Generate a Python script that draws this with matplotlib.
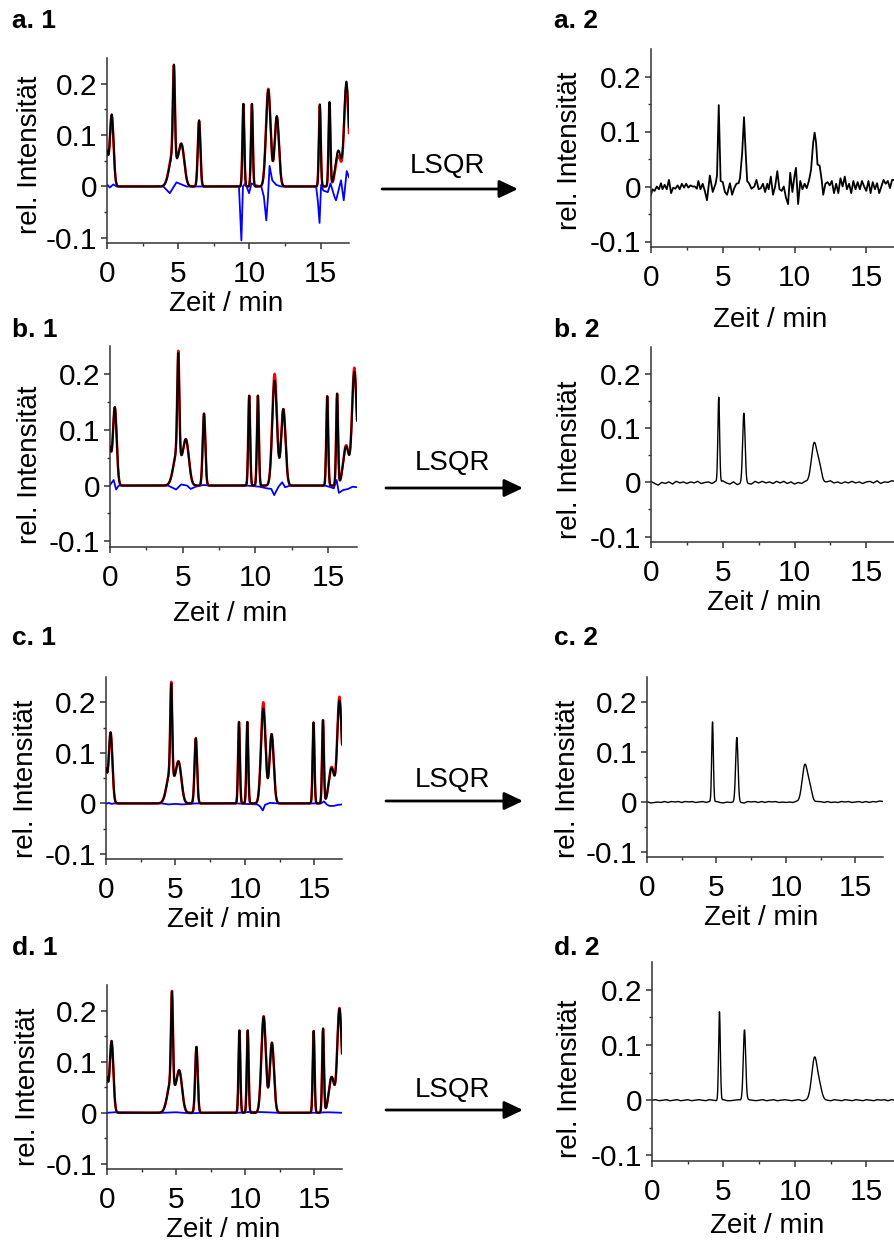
import numpy as np
import matplotlib
matplotlib.use("Agg")
import matplotlib.pyplot as plt
from matplotlib.patches import FancyArrowPatch
from matplotlib.ticker import FixedLocator, FuncFormatter

plt.rcParams['font.family'] = ['Liberation Sans', 'DejaVu Sans']

# ---------------- data ----------------
# left panels: peak table of the measured chromatogram (black) and fits (red)
peak_rt = [-0.05, 0.33, 4.62, 4.70, 5.23, 6.47, 9.58, 10.18, 11.33, 11.93, 14.95, 15.63, 16.25, 16.80, 17.00]
peak_w = [0.12, 0.13, 0.25, 0.07, 0.20, 0.09, 0.065, 0.065, 0.16, 0.15, 0.065, 0.065, 0.20, 0.15, 0.15]
meas_h = [0.070, 0.140, 0.060, 0.178, 0.080, 0.129, 0.161, 0.161, 0.188, 0.137, 0.160, 0.164, 0.070, 0.185, 0.040]
fit_h_a = [0.072, 0.138, 0.065, 0.172, 0.080, 0.127, 0.160, 0.160, 0.190, 0.135, 0.158, 0.162, 0.060, 0.180, 0.030]
fit_h_b = [0.070, 0.140, 0.060, 0.182, 0.080, 0.129, 0.161, 0.161, 0.200, 0.137, 0.160, 0.164, 0.072, 0.192, 0.040]
fit_h_c = [0.070, 0.140, 0.060, 0.181, 0.080, 0.129, 0.161, 0.161, 0.200, 0.137, 0.160, 0.164, 0.072, 0.192, 0.040]
fit_h_d = [0.070, 0.140, 0.060, 0.179, 0.080, 0.129, 0.161, 0.161, 0.189, 0.137, 0.160, 0.164, 0.070, 0.186, 0.040]

# residuals (blue)
res_a_t = [0, 0.2, 0.44, 0.68, 3.95, 4.41, 4.88, 5.23, 5.58, 6.5, 9.27, 9.44, 9.55, 9.72, 9.98, 10.15, 10.37,
           10.84, 11.02, 11.19, 11.31, 11.42, 11.61, 11.89, 12.24, 14.69, 14.81, 14.93, 15.04, 15.2, 15.51,
           15.7, 15.98, 16.09, 16.44, 16.63, 16.84, 17.0]
res_a_v = [0.004, -0.002, 0.004, 0.0, 0.0, -0.013, 0.008, 0.004, 0.0, 0.0, 0.0, -0.105, 0.0, 0.006, -0.013, 0.006, 0.003,
           0.0, -0.020, -0.066, -0.020, 0.040, 0.012, 0.003, 0.0, 0.0, -0.028, -0.071, 0.003, -0.008, -0.011,
           0.006, -0.020, -0.027, 0.012, -0.027, 0.030, 0.018]
res_b_t = [0, 0.25, 0.42, 0.6, 4.0, 4.55, 4.9, 5.3, 5.55, 5.9, 6.4, 7.0, 9.4, 10.3, 10.8, 11.1, 11.3, 11.6, 11.85,
           12.05, 12.4, 14.8, 15.2, 15.4, 15.6, 15.75, 16.05, 16.4, 16.7, 17.0]
res_b_v = [0.001, 0.010, -0.007, 0.0, 0.0, -0.007, 0.002, 0.0, -0.006, -0.002, 0.001, 0.0, 0.0, -0.002, -0.005, -0.006,
           -0.017, -0.002, 0.006, -0.003, 0.0, 0.0, -0.003, -0.005, 0.010, -0.013, -0.008, -0.006, -0.002, -0.003]
res_c_t = [0, 0.2, 0.4, 0.6, 4.0, 4.5, 5.0, 5.5, 6.0, 6.5, 7.0, 9.4, 10.0, 10.9, 11.1, 11.3, 11.45, 11.8, 12.4,
           14.8, 15.5, 15.7, 15.9, 16.1, 16.4, 16.7, 17.0]
res_c_v = [-0.001, 0.001, -0.001, 0.0, 0.0, -0.002, -0.001, -0.002, -0.001, 0.0, 0.0, 0.0, -0.001, -0.002, -0.006,
           -0.014, -0.003, 0.001, 0.0, 0.0, 0.0, 0.004, -0.002, -0.005, -0.005, -0.003, -0.002]
res_d_t = [0, 0.6, 4.0, 5.0, 6.0, 7.0, 9.5, 10.5, 11.5, 12.4, 15.0, 16.0, 17.0]
res_d_v = [0.0, 0.001, 0.0, 0.001, -0.001, 0.0, 0.0, 0.002, 0.001, 0.0, 0.0, 0.001, 0.0]

# right panel a.2: noisy LSQR result, read point by point
a2_t = [0.0, 0.1, 0.25, 0.4, 0.55, 0.7, 0.8, 0.95, 1.1, 1.25, 1.4, 1.55, 1.7, 1.85, 2.0, 2.15, 2.3, 2.45, 2.6,
        2.75, 2.9, 3.05, 3.2, 3.3, 3.45, 3.6, 3.75, 3.9, 4.1, 4.3, 4.5, 4.6, 4.72, 4.85, 5.0, 5.15, 5.3, 5.5,
        5.65, 5.8, 5.95, 6.1, 6.2, 6.35, 6.48, 6.6, 6.7, 6.85, 7.0, 7.2, 7.35, 7.5, 7.65, 7.8, 7.95, 8.1, 8.2,
        8.35, 8.5, 8.65, 8.8, 8.95, 9.1, 9.25, 9.4, 9.55, 9.7, 9.85, 10.0, 10.1, 10.25, 10.4, 10.55, 10.7,
        10.85, 11.0, 11.15, 11.3, 11.4, 11.5, 11.6, 11.75, 11.9, 12.0, 12.15, 12.3, 12.45, 12.6, 12.75, 12.9,
        13.05, 13.2, 13.35, 13.5, 13.65, 13.8, 13.95, 14.1, 14.25, 14.4, 14.55, 14.7, 14.85, 15.0, 15.15,
        15.3, 15.45, 15.6, 15.75, 15.9, 16.05, 16.2, 16.35, 16.5, 16.65, 16.8, 17.0]
a2_v = [-0.015, -0.005, -0.008, 0.0, -0.005, 0.006, -0.005, 0.003, -0.005, 0.012, -0.012, -0.002, -0.004, 0.002,
        -0.005, 0.005, -0.002, 0.005, -0.002, 0.002, 0.0, 0.0, -0.004, 0.010, -0.005, 0.005, -0.008, -0.025,
        0.020, -0.010, 0.005, 0.020, 0.148, 0.010, 0.008, -0.010, -0.015, 0.006, -0.015, -0.003, 0.005, 0.006,
        0.015, 0.060, 0.126, 0.060, 0.010, 0.005, -0.004, 0.0, 0.012, -0.005, -0.003, 0.005, -0.010, 0.005,
        -0.005, 0.018, -0.015, 0.0, 0.028, -0.005, -0.008, 0.0, -0.020, -0.032, 0.025, -0.010, 0.020, 0.034,
        -0.032, 0.010, -0.005, 0.005, -0.003, 0.010, 0.030, 0.080, 0.098, 0.080, 0.040, 0.038, 0.010, -0.015,
        0.005, 0.008, 0.002, 0.010, -0.012, 0.005, -0.012, 0.015, 0.0, 0.018, -0.005, 0.005, -0.012, 0.010,
        -0.005, 0.008, -0.005, 0.010, 0.0, -0.008, 0.010, -0.012, 0.008, -0.005, 0.006, -0.012, 0.0, 0.012,
        0.005, 0.010, -0.003, 0.012, 0.012]

# right panels b.2-d.2: peak table + baseline readings every 0.25 min
rec_rt = [4.72, 6.47, 11.38, 11.75]
rec_w = [0.06, 0.085, 0.20, 0.15]
rec_h_b = [0.158, 0.127, 0.073, 0.022]
rec_h_c = [0.160, 0.128, 0.074, 0.022]
rec_h_d = [0.160, 0.128, 0.078, 0.018]
base_t = [i * 0.25 for i in range(69)]
base_b = [0.002, -0.002, -0.005, 0.000, -0.002, 0.001, -0.003, 0.002, -0.001, 0.001,
          -0.002, 0.001, -0.001, 0.002, -0.002, 0.000, 0.001, -0.002, 0.002, -0.001,
          0.003, -0.001, -0.003, 0.001, -0.004, -0.002, 0.001, -0.002, -0.003, 0.002,
          -0.001, 0.002, -0.001, 0.001, -0.002, 0.002, -0.001, 0.002, -0.002, 0.001,
          -0.003, 0.000, -0.002, 0.002, 0.000, 0.001, -0.001, 0.002, 0.000, 0.001,
          0.003, -0.001, 0.001, -0.002, 0.001, -0.001, 0.002, -0.001, 0.001, -0.002,
          0.001, 0.002, -0.001, 0.003, -0.002, 0.001, 0.000, 0.003, 0.002]
base_c = [0.001, -0.002, -0.001, 0.000, -0.001, 0.001, -0.001, 0.001, 0.000, 0.001,
          -0.001, 0.001, 0.000, 0.001, -0.001, 0.000, 0.001, -0.001, 0.001, 0.000,
          0.001, -0.001, -0.002, 0.000, -0.001, 0.000, 0.001, -0.001, -0.002, 0.001,
          0.000, 0.001, -0.001, 0.001, -0.001, 0.001, 0.000, 0.001, -0.001, 0.000,
          -0.001, 0.000, -0.001, 0.001, 0.000, 0.001, 0.000, 0.002, 0.000, 0.001,
          0.001, -0.001, 0.001, -0.001, 0.000, -0.001, 0.001, 0.000, 0.001, -0.001,
          0.000, 0.001, -0.001, 0.001, -0.001, 0.001, 0.000, 0.002, 0.001]
base_d = [0.000, 0.001, -0.001, 0.000, 0.001, -0.001, 0.000, 0.001, -0.001, 0.000,
          0.001, -0.001, 0.000, 0.001, 0.000, -0.001, 0.001, 0.000, -0.001, 0.000,
          0.001, -0.001, -0.001, 0.000, 0.001, 0.000, -0.001, 0.001, 0.000, -0.001,
          0.000, 0.001, -0.001, 0.000, 0.001, -0.001, 0.000, 0.001, 0.000, -0.001,
          0.000, 0.001, -0.001, 0.000, 0.001, 0.000, -0.001, 0.000, 0.001, 0.000,
          -0.001, 0.001, 0.000, -0.001, 0.001, 0.000, -0.001, 0.001, 0.000, -0.001,
          0.001, 0.000, -0.001, 0.001, 0.000, 0.001, -0.001, 0.001, 0.000]

titles_left = ['a. 1', 'b. 1', 'c. 1', 'd. 1']
titles_right = ['a. 2', 'b. 2', 'c. 2', 'd. 2']
x_ticks = [0, 5, 10, 15]
y_ticks = [-0.1, 0, 0.1, 0.2]
xlabel = 'Zeit / min'
ylabel = 'rel. Intensität'
arrow_text = 'LSQR'

# ---------------- layout ----------------
W, H = 895, 1242
fig = plt.figure(figsize=(W / 100, H / 100), dpi=100)

AX_COL = '#333333'


def px_axes(l, t, r, b):
    return fig.add_axes([l / W, 1 - b / H, (r - l) / W, (b - t) / H])


def ftext(x, y, s, **kw):
    fig.text(x / W, 1 - y / H, s, **kw)


def peaks(t, rt, h, w):
    y = np.zeros_like(t)
    for c, a, s in zip(rt, h, w):
        y += a * np.exp(-0.5 * ((t - c) / s) ** 2)
    return y


def style(ax):
    ax.set_xlim(0, 17)
    ax.set_ylim(-0.11, 0.25)
    for s in ['top', 'right']:
        ax.spines[s].set_visible(False)
    for s in ['left', 'bottom']:
        ax.spines[s].set_color(AX_COL)
        ax.spines[s].set_linewidth(1.1)
    ax.xaxis.set_major_locator(FixedLocator(x_ticks))
    ax.xaxis.set_minor_locator(FixedLocator([2.5, 7.5, 12.5]))
    ax.yaxis.set_major_locator(FixedLocator(y_ticks))
    ax.yaxis.set_minor_locator(FixedLocator([-0.05, 0.05, 0.15]))
    ax.yaxis.set_major_formatter(FuncFormatter(lambda v, p: '0' if abs(v) < 1e-9 else f'{v:g}'))
    ax.tick_params(which='major', direction='out', length=4, width=1.1, color=AX_COL,
                   labelsize=21.5, labelcolor='black')
    ax.tick_params(which='minor', direction='out', length=2.5, width=1.0, color=AX_COL)
    ax.tick_params(axis='x', which='major', pad=8)
    ax.tick_params(axis='y', which='major', pad=3)
    ax.patch.set_alpha(0)


t = np.linspace(0, 17, 1701)
black = peaks(t, peak_rt, meas_h, peak_w)

left_boxes = [(107, 58, 349, 243), (110, 346, 357, 547), (106, 677, 342, 859), (107, 985, 342, 1169)]
right_boxes = [(651, 49, 895, 247), (651, 347, 895, 542), (647, 677, 883, 857), (652, 962, 895, 1161)]
fits = [fit_h_a, fit_h_b, fit_h_c, fit_h_d]
resid = [(res_a_t, res_a_v), (res_b_t, res_b_v), (res_c_t, res_c_v), (res_d_t, res_d_v)]
title_base = [28, 337, 645, 955]
left_ylab = [(37, 155), (37, 465), (33, 779), (35, 1087)]
left_xlab = [(226, 311), (230, 621), (224, 927), (223, 1237)]
right_ylab = [(577, 151), (577, 460), (575, 779), (577, 1079)]
right_xlab = [(770, 327), (764, 610), (761, 925), (767, 1233)]
arrows = [(382, 518, 189, 173), (386, 523, 488, 470), (386, 523, 801, 787), (386, 523, 1110, 1097)]

rec = [None, (rec_h_b, base_b), (rec_h_c, base_c), (rec_h_d, base_d)]

for i in range(4):
    # left panel
    ax = px_axes(*left_boxes[i])
    rt_, rv_ = resid[i]
    ax.plot(rt_, rv_, color='#0000ff', lw=1.3, zorder=2)
    ax.plot(t, peaks(t, peak_rt, fits[i], peak_w), color='#ff0000', lw=1.8, zorder=3)
    ax.plot(t, black, color='black', lw=1.4, zorder=4)
    style(ax)

    # right panel
    ax2 = px_axes(*right_boxes[i])
    if i == 0:
        ax2.plot(a2_t, a2_v, color='black', lw=1.3)
    else:
        hh, bb = rec[i]
        y2 = peaks(t, rec_rt, hh, rec_w) + np.interp(t, base_t, bb)
        ax2.plot(t, y2, color='black', lw=1.0)
    style(ax2)

    # texts
    ftext(12, title_base[i], titles_left[i], fontsize=19, fontweight='bold', va='baseline', ha='left')
    ftext(554, title_base[i], titles_right[i], fontsize=19, fontweight='bold', va='baseline', ha='left')
    for (x, y), (xx, yy) in [(left_ylab[i], left_xlab[i]), (right_ylab[i], right_xlab[i])]:
        ftext(x, y, ylabel, fontsize=20, rotation=90, rotation_mode='anchor', ha='center', va='baseline')
        ftext(xx, yy, xlabel, fontsize=20, ha='center', va='baseline')

    x0, x1, ya, yt = arrows[i]
    arr = FancyArrowPatch((x0 / W, 1 - ya / H), (x1 / W, 1 - ya / H), transform=fig.transFigure,
                          arrowstyle='-|>,head_length=0.95,head_width=0.45', mutation_scale=12,
                          lw=2, color='black', shrinkA=0, shrinkB=0)
    fig.add_artist(arr)
    ftext((x0 + x1) / 2 - 2, yt, arrow_text, fontsize=20, ha='center', va='baseline')

fig.savefig('out.png', dpi=100)
